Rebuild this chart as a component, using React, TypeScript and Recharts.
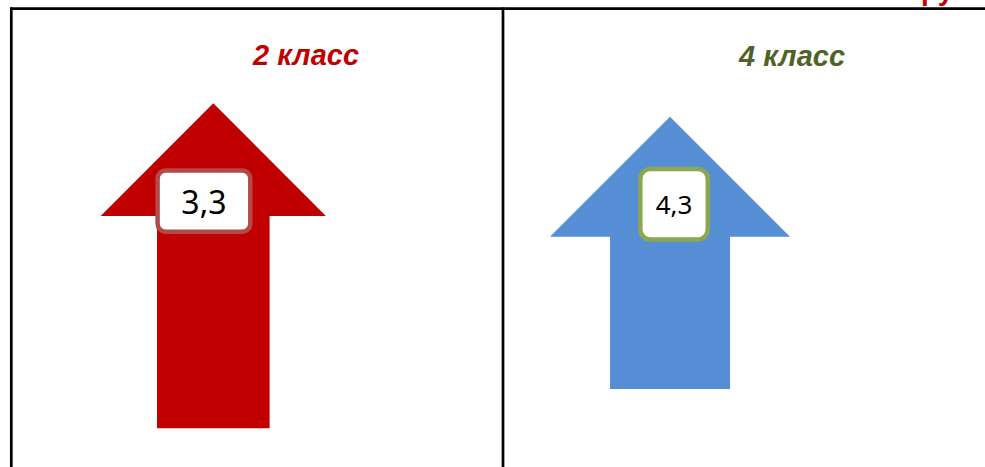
import React from "react";
import { BarChart, Bar, XAxis, YAxis, LabelList } from "recharts";

// ---- data ----
const categories = ["2 класс", "4 класс"];
const scores = [3.3, 4.3];
const topGrayText = "Итоговые показатели";
const topRedText = "русский язык";

const redData = [{ name: categories[0], value: scores[0] }];
const blueData = [{ name: categories[1], value: scores[1] }];

const fmt = (v: number) => String(v).replace(".", ",");

const ArrowShape = (props: any) => {
  const { x, y, width: w, height: h, fill } = props;
  const d = [
    `M ${x + w / 2} ${y}`,
    `L ${x + w * 1.5} ${y + w}`,
    `L ${x + w} ${y + w}`,
    `L ${x + w} ${y + h}`,
    `L ${x} ${y + h}`,
    `L ${x} ${y + w}`,
    `L ${x - w / 2} ${y + w}`,
    "Z",
  ].join(" ");
  return <path d={d} fill={fill} />;
};

const makeLabel =
  (o: { dx: number; dy: number; w: number; h: number; stroke: string; fontSize: number; rx: number }) =>
  (props: any) => {
    const { x, y, value } = props;
    const bx = x + o.dx;
    const by = y + o.dy;
    return (
      <g>
        <rect x={bx} y={by} width={o.w} height={o.h} rx={o.rx} ry={o.rx} fill="#ffffff" stroke={o.stroke} strokeWidth={4.5} />
        <text
          x={bx + o.w / 2}
          y={by + o.h / 2}
          textAnchor="middle"
          dominantBaseline="central"
          fontFamily="'Noto Sans', sans-serif"
          fontSize={o.fontSize}
          fill="#000000"
        >
          {fmt(value)}
        </text>
      </g>
    );
  };

const makeTitleTick =
  (o: { dx: number; y: number; color: string }) =>
  (props: any) => {
    const { x, payload } = props;
    return (
      <text
        x={x + o.dx}
        y={o.y}
        textAnchor="middle"
        fontFamily="'Liberation Sans', Arial, sans-serif"
        fontWeight="bold"
        fontStyle="italic"
        fontSize={29}
        fill={o.color}
      >
        {payload.value}
      </text>
    );
  };

export default function App() {
  return (
    <div style={{ position: "absolute", left: 0, top: 0, width: 985, height: 467, background: "#fff", overflow: "hidden" }}>
      <div style={{ position: "absolute", left: 13, top: 0 }}>
        <BarChart width={400} height={467} data={redData} margin={{ top: 73.3, bottom: 38.7, left: 0, right: 0 }}>
          <XAxis
            dataKey="name"
            orientation="top"
            height={30}
            axisLine={false}
            tickLine={false}
            interval={0}
            tick={makeTitleTick({ dx: 93, y: 65, color: "#C00000" })}
          />
          <YAxis hide domain={[0, "dataMax"]} />
          <Bar dataKey="value" fill="#C00000" barSize={112.6} isAnimationActive={false} shape={(p: any) => <ArrowShape {...p} />}>
            <LabelList
              dataKey="value"
              content={makeLabel({ dx: 0.6, dy: 67.2, w: 92.7, h: 61.3, stroke: "#B24A4A", fontSize: 32, rx: 8 })}
            />
          </Bar>
        </BarChart>
      </div>
      <div style={{ position: "absolute", left: 470, top: 0 }}>
        <BarChart width={400} height={467} data={blueData} margin={{ top: 86.7, bottom: 78, left: 0, right: 0 }}>
          <XAxis
            dataKey="name"
            orientation="top"
            height={30}
            axisLine={false}
            tickLine={false}
            interval={0}
            tick={makeTitleTick({ dx: 122, y: 66, color: "#4F6228" })}
          />
          <YAxis hide domain={[0, "dataMax"]} />
          <Bar dataKey="value" fill="#558ED5" barSize={120} isAnimationActive={false} shape={(p: any) => <ArrowShape {...p} />}>
            <LabelList
              dataKey="value"
              content={makeLabel({ dx: 30.3, dy: 52.3, w: 67.5, h: 70.5, stroke: "#8BA752", fontSize: 26, rx: 10 })}
            />
          </Bar>
        </BarChart>
      </div>
      <svg width={985} height={467} style={{ position: "absolute", left: 0, top: 0, pointerEvents: "none" }}>
        <line x1={10} y1={8.7} x2={985} y2={8.7} stroke="#000" strokeWidth={2.7} />
        <line x1={11.3} y1={7.4} x2={11.3} y2={467} stroke="#000" strokeWidth={2.7} />
        <line x1={503} y1={7.4} x2={503} y2={467} stroke="#000" strokeWidth={2.7} />
        <text x={838} y={-0.6} textAnchor="end" fontFamily="'Liberation Sans', Arial, sans-serif" fontSize={28} fill="#595959">
          {topGrayText}
        </text>
        <text x={921} y={0.3} fontFamily="'Liberation Sans', Arial, sans-serif" fontWeight="bold" fontSize={28} fill="#C00000">
          {topRedText}
        </text>
      </svg>
    </div>
  );
}
